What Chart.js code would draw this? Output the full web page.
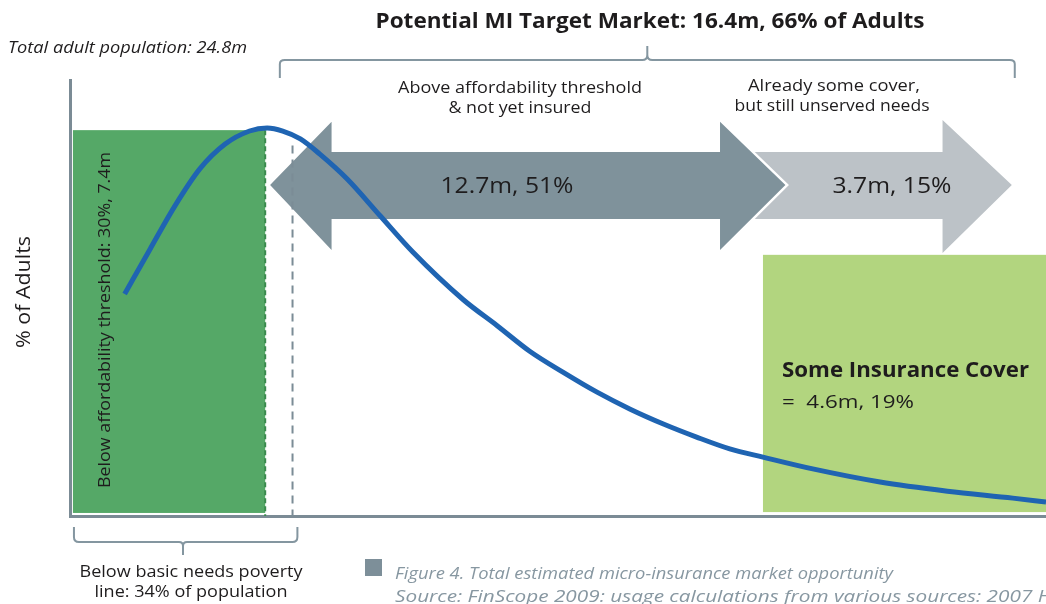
<!DOCTYPE html>
<html>
<head>
<meta charset="utf-8">
<script src="https://cdn.jsdelivr.net/npm/chart.js@4.4.1/dist/chart.umd.min.js"></script>
<style>
html,body{margin:0;padding:0;background:#fff;}
#wrap{position:relative;width:1046px;height:604px;}
</style>
</head>
<body>
<div id="wrap"><canvas id="c"></canvas></div>
<script>
// ---- Data (x: position along population, 0-100; y: % of adults, 0-100) ----
const curveX = [5.6, 8.2, 10.8, 13.3, 15.9, 18.4, 20.2, 21.8, 23.6, 25.6, 28.4, 31.8, 35.1, 40.3, 43.8, 47.1, 50.5, 54.0, 57.4, 60.8, 64.2, 67.6, 71.0, 76.1, 83.0, 89.9, 96.6, 100];
const curveY = [50.9, 61.2, 71.3, 79.6, 85.3, 88.3, 89.0, 88.3, 86.5, 83.0, 77.3, 68.8, 60.6, 49.6, 43.6, 37.8, 33.0, 28.4, 24.5, 21.1, 18.1, 15.4, 13.5, 10.8, 7.8, 5.7, 4.1, 3.2];

// segment boundaries (in x units)
const belowThreshold = [0.3, 20.0];      // dark green block
const povertyLine = 22.8;                // dashed line
const targetMarket = [21.5, 96.8];       // top bracket
const notInsured = [20.5, 73.3];         // dark double arrow
const someCoverNeeds = [69.7, 96.5];     // light arrow
const insuredBlock = [71.0, 100];        // light green block
const povertyBracket = [0.2, 23.3];      // bottom bracket
const blockHeights = [88.5, 59.9];       // dark / light green block tops

const labels = {
  title: 'Potential MI Target Market: 16.4m, 66% of Adults',
  total: 'Total adult population: 24.8m',
  above: ['Above affordability threshold', '& not yet insured'],
  already: ['Already some cover,', 'but still unserved needs'],
  notInsuredVal: '12.7m, 51%',
  someCoverVal: '3.7m, 15%',
  insuredTitle: 'Some Insurance Cover',
  insuredVal: '=  4.6m, 19%',
  below: 'Below affordability threshold: 30%, 7.4m',
  yTitle: '% of Adults',
  poverty: ['Below basic needs poverty', 'line: 34% of population'],
  caption: ['Figure 4. Total estimated micro-insurance market opportunity',
            'Source: FinScope 2009: usage calculations from various sources: 2007 Household Survey']
};

const FONT = '"Open Sans", "DejaVu Sans", sans-serif';
const AXIS = '#7b8b95';

function txt(ctx, s, x, y, o) {
  ctx.save();
  ctx.font = `${o.style || 'normal'} ${o.weight || 400} ${o.size}px ${FONT}`;
  ctx.fillStyle = o.color || '#1e1c1d';
  ctx.textBaseline = 'middle';
  ctx.textAlign = o.align || 'left';
  const w = ctx.measureText(s).width;
  const sx = o.w ? o.w / w : 1;
  ctx.translate(x, y);
  if (o.rot) ctx.rotate(o.rot);
  ctx.scale(sx, 1);
  ctx.fillText(s, 0, 0);
  ctx.restore();
}

function arrowPath(ctx, pts) {
  ctx.beginPath();
  ctx.moveTo(pts[0][0], pts[0][1]);
  for (let i = 1; i < pts.length; i++) ctx.lineTo(pts[i][0], pts[i][1]);
  ctx.closePath();
}

const infographic = {
  id: 'infographic',
  beforeDatasetsDraw(chart) {
    const ctx = chart.ctx;
    const xs = chart.scales.x, ys = chart.scales.y;
    const X = v => xs.getPixelForValue(v), Y = v => ys.getPixelForValue(v);
    const base = Y(0.7);

    // dark green block
    ctx.save();
    ctx.fillStyle = '#55a867';
    ctx.fillRect(X(belowThreshold[0]), Y(blockHeights[0]), X(belowThreshold[1]) - X(belowThreshold[0]), base - Y(blockHeights[0]));
    ctx.strokeStyle = '#3b8a4e';
    ctx.lineWidth = 2;
    ctx.setLineDash([5, 3]);
    ctx.beginPath();
    ctx.moveTo(X(belowThreshold[1]), Y(blockHeights[0]));
    ctx.lineTo(X(belowThreshold[1]), Y(0));
    ctx.stroke();
    ctx.restore();

    // light green block
    ctx.save();
    ctx.fillStyle = '#b2d57f';
    ctx.fillRect(X(insuredBlock[0]), Y(blockHeights[1]), X(insuredBlock[1]) - X(insuredBlock[0]), Y(0.9) - Y(blockHeights[1]));
    ctx.restore();

    // light arrow
    const cy = Y(75.9);
    const shT = Y(83.5), shB = Y(68.1), hT = Y(90.8), hB = Y(60.3);
    ctx.save();
    ctx.fillStyle = '#bcc2c7';
    const lb = X(89.4);
    arrowPath(ctx, [[X(someCoverNeeds[0]), shT], [lb, shT], [lb, hT], [X(someCoverNeeds[1]), cy], [lb, hB], [lb, shB], [X(someCoverNeeds[0]), shB]]);
    ctx.fill();
    ctx.restore();

    // dark double arrow
    ctx.save();
    const l0 = X(notInsured[0]), l1 = X(26.8), r1 = X(66.6), r0 = X(notInsured[1]);
    const dT = Y(90.4), dB = Y(61.0);
    arrowPath(ctx, [[l0, cy], [l1, dT], [l1, shT], [r1, shT], [r1, dT], [r0, cy], [r1, dB], [r1, shB], [l1, shB], [l1, dB]]);
    ctx.strokeStyle = '#ffffff';
    ctx.lineWidth = 5;
    ctx.lineJoin = 'miter';
    ctx.stroke();
    ctx.fillStyle = '#7f929b';
    ctx.fill();
    ctx.restore();

    // poverty dashed line
    ctx.save();
    ctx.strokeStyle = '#7b8c96';
    ctx.lineWidth = 2;
    ctx.setLineDash([8, 6]);
    ctx.beginPath();
    ctx.moveTo(X(povertyLine), Y(85.0));
    ctx.lineTo(X(povertyLine), Y(0));
    ctx.stroke();
    ctx.restore();
  },
  afterDraw(chart) {
    const ctx = chart.ctx;
    const xs = chart.scales.x;
    const X = v => xs.getPixelForValue(v);

    // top bracket
    ctx.save();
    ctx.strokeStyle = '#8496a0';
    ctx.lineWidth = 2;
    const bl = X(targetMarket[0]), br = X(targetMarket[1]), bc = (bl + br) / 2;
    ctx.beginPath();
    ctx.moveTo(bl, 78); ctx.lineTo(bl, 64); ctx.quadraticCurveTo(bl, 60, bl + 5, 60);
    ctx.lineTo(bc - 5, 60); ctx.quadraticCurveTo(bc, 60, bc, 55); ctx.lineTo(bc, 46);
    ctx.moveTo(bc, 55); ctx.quadraticCurveTo(bc, 60, bc + 5, 60);
    ctx.lineTo(br - 5, 60); ctx.quadraticCurveTo(br, 60, br, 64); ctx.lineTo(br, 78);
    ctx.stroke();

    // bottom bracket
    const pl = X(povertyBracket[0]) + 2, pr = X(povertyBracket[1]), pc = 183;
    ctx.beginPath();
    ctx.moveTo(pl, 527); ctx.lineTo(pl, 537); ctx.quadraticCurveTo(pl, 542, pl + 5, 542);
    ctx.lineTo(pc - 4, 542); ctx.quadraticCurveTo(pc, 542, pc, 546); ctx.lineTo(pc, 555);
    ctx.moveTo(pc, 546); ctx.quadraticCurveTo(pc, 542, pc + 4, 542);
    ctx.lineTo(pr - 5, 542); ctx.quadraticCurveTo(pr, 542, pr, 537); ctx.lineTo(pr, 527);
    ctx.stroke();
    ctx.restore();

    // legend square
    ctx.fillStyle = '#7d8f99';
    ctx.fillRect(365, 559, 17, 17);

    // texts
    txt(ctx, labels.total, 8, 48, {size: 17, style: 'italic', w: 239});
    txt(ctx, labels.title, 650, 22, {size: 22, weight: 700, w: 549, align: 'center'});
    txt(ctx, labels.above[0], 520, 88, {size: 17, w: 244, align: 'center'});
    txt(ctx, labels.above[1], 520, 108, {size: 17, w: 143, align: 'center'});
    txt(ctx, labels.already[0], 834, 86, {size: 17, w: 172, align: 'center'});
    txt(ctx, labels.already[1], 832, 106, {size: 17, w: 195, align: 'center'});
    txt(ctx, labels.notInsuredVal, 507, 187, {size: 22, w: 133, align: 'center'});
    txt(ctx, labels.someCoverVal, 892, 187, {size: 22, w: 119, align: 'center'});
    txt(ctx, labels.insuredTitle, 782, 371, {size: 22, weight: 700, w: 247});
    txt(ctx, labels.insuredVal, 782, 403, {size: 19, w: 132});
    txt(ctx, labels.below, 105, 320, {size: 17, w: 336, align: 'center', rot: -Math.PI / 2});
    txt(ctx, labels.yTitle, 24, 292, {size: 20, w: 112, align: 'center', rot: -Math.PI / 2});
    txt(ctx, labels.poverty[0], 191, 572, {size: 17, w: 223, align: 'center'});
    txt(ctx, labels.poverty[1], 191, 592, {size: 17, w: 193, align: 'center'});
    txt(ctx, labels.caption[0], 395, 574, {size: 17, style: 'italic', w: 498, color: '#8797a1'});
    txt(ctx, labels.caption[1], 395, 597, {size: 17, style: 'italic', w: 806, color: '#8797a1'});
  }
};

const data = curveX.map((x, i) => ({x, y: curveY[i]}));

new Chart(document.getElementById('c'), {
  type: 'line',
  data: {
    datasets: [{
      data,
      borderColor: '#1f64b2',
      borderWidth: 5,
      pointRadius: 0,
      fill: false,
      cubicInterpolationMode: 'monotone',
      borderCapStyle: 'butt'
    }]
  },
  options: {
    responsive: true,
    maintainAspectRatio: false,
    animation: false,
    events: [],
    layout: {padding: {left: 70, right: 0, top: 80, bottom: 88}},
    plugins: {legend: {display: false}, tooltip: {enabled: false}, title: {display: false}},
    scales: {
      x: {
        type: 'linear', min: 0, max: 100,
        ticks: {display: false}, grid: {display: false, drawTicks: false},
        border: {display: true, color: AXIS, width: 3},
        afterFit: s => { s.height = 0; }
      },
      y: {
        type: 'linear', min: 0, max: 100,
        ticks: {display: false}, grid: {display: false, drawTicks: false},
        border: {display: true, color: AXIS, width: 3},
        afterFit: s => { s.width = 0; }
      }
    }
  },
  plugins: [infographic]
});
</script>
</body>
</html>
